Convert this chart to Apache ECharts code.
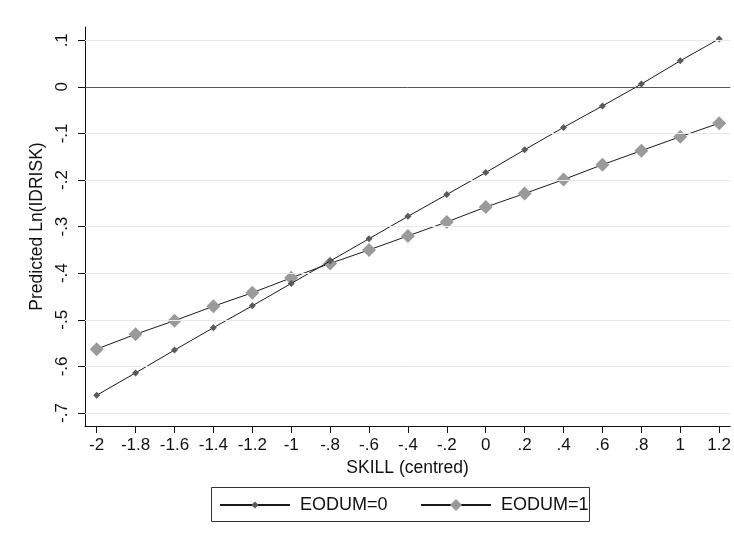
<!DOCTYPE html>
<html>
<head>
<meta charset="utf-8">
<script src="https://cdn.jsdelivr.net/npm/echarts@6/dist/echarts.min.js"></script>
<style>html,body{margin:0;padding:0;background:#fff;}#chart{width:734px;height:540px;}</style>
</head>
<body>
<div id="chart"></div>
<script>
const skill = [-2, -1.8, -1.6, -1.4, -1.2, -1, -0.8, -0.6, -0.4, -0.2, 0, 0.2, 0.4, 0.6, 0.8, 1, 1.2];
const eodum0 = [-0.662, -0.614, -0.565, -0.517, -0.470, -0.422, -0.374, -0.326, -0.278, -0.231, -0.184, -0.135, -0.087, -0.041, 0.006, 0.056, 0.103];
const eodum1 = [-0.563, -0.531, -0.502, -0.471, -0.442, -0.410, -0.379, -0.350, -0.320, -0.290, -0.258, -0.229, -0.199, -0.167, -0.137, -0.107, -0.078];
const xTicks = [-2, -1.8, -1.6, -1.4, -1.2, -1, -0.8, -0.6, -0.4, -0.2, 0, 0.2, 0.4, 0.6, 0.8, 1, 1.2];
const yTicks = [-0.7, -0.6, -0.5, -0.4, -0.3, -0.2, -0.1, 0, 0.1];
const seriesNames = ['EODUM=0', 'EODUM=1'];
const xTitle = 'SKILL (centred)';
const yTitle = 'Predicted Ln(IDRISK)';

function fmt(v) {
  let s = String(Math.round(v * 10) / 10);
  return s.replace(/^(-?)0\./, '$1.');
}
const FONT = 'Liberation Sans';
const chart = echarts.init(document.getElementById('chart'), null, {renderer: 'canvas'});
const pair = (ys) => skill.map((x, i) => [x, ys[i]]);
const legendText = {fontSize: 18, color: '#111', fontFamily: FONT, padding: [0, 0, 0, 5]};

chart.setOption({
  animation: false,
  backgroundColor: '#ffffff',
  textStyle: {fontFamily: FONT},
  grid: {left: 85, top: 27, right: 3, bottom: 114, containLabel: false},
  xAxis: {
    type: 'value', min: -2.06, max: 1.257,
    name: xTitle, nameLocation: 'middle', nameGap: 29,
    nameTextStyle: {fontSize: 17.5, color: '#111', fontFamily: FONT},
    axisLine: {show: true, onZero: false, lineStyle: {color: '#111', width: 1}},
    axisTick: {show: true, length: 7, inside: false, customValues: xTicks, lineStyle: {color: '#111'}},
    axisLabel: {customValues: xTicks, formatter: fmt, fontSize: 17, color: '#111', margin: 11, fontFamily: FONT},
    splitLine: {show: false}
  },
  yAxis: {
    type: 'value', min: -0.728, max: 0.1285,
    name: yTitle, nameLocation: 'middle', nameGap: 33, nameRotate: 90,
    nameTextStyle: {fontSize: 17.5, color: '#111', fontFamily: FONT},
    axisLine: {show: true, onZero: false, lineStyle: {color: '#111', width: 1}},
    axisTick: {show: true, length: 7, inside: false, customValues: yTicks, lineStyle: {color: '#111'}},
    axisLabel: {customValues: yTicks, formatter: fmt, rotate: 90, fontSize: 17, color: '#111', margin: 14, fontFamily: FONT},
    splitLine: {show: false}
  },
  legend: [
    {
      data: [seriesNames[0]], left: 219, top: 496, padding: 0,
      itemWidth: 70, itemHeight: 9, textStyle: legendText
    },
    {
      data: [seriesNames[1]], left: 420, top: 496, padding: 0,
      itemWidth: 70, itemHeight: 15, textStyle: legendText
    }
  ],
  graphic: [
    {
      type: 'rect', silent: true,
      shape: {x: 211.5, y: 487.5, width: 378, height: 34},
      style: {fill: 'none', stroke: '#333', lineWidth: 1}
    }
  ],
  series: [
    {
      type: 'line', name: '__grid', data: [], z: 1, silent: true,
      markLine: {
        silent: true, symbol: ['none', 'none'], label: {show: false}, animation: false,
        lineStyle: {color: '#e8e8e8', width: 1, type: 'solid'},
        data: yTicks.filter(v => Math.abs(v) > 1e-9).map(v => ({yAxis: v}))
      }
    },
    {
      type: 'line', name: '__zero', data: [], z: 2, silent: true,
      markLine: {
        silent: true, symbol: ['none', 'none'], label: {show: false}, animation: false,
        lineStyle: {color: '#555', width: 1, type: 'solid'},
        data: [{yAxis: 0}]
      }
    },
    {
      type: 'line', name: seriesNames[0], data: pair(eodum0), z: 4,
      symbol: 'diamond', symbolSize: 7, showSymbol: true,
      lineStyle: {color: '#1a1a1a', width: 1},
      itemStyle: {color: '#5a5a5a', borderWidth: 0}
    },
    {
      type: 'line', name: seriesNames[1], data: pair(eodum1), z: 3,
      symbol: 'diamond', symbolSize: 14, showSymbol: true,
      lineStyle: {color: '#1a1a1a', width: 1},
      itemStyle: {color: '#9a9a9a', borderWidth: 0}
    }
  ]
});
</script>
</body>
</html>
